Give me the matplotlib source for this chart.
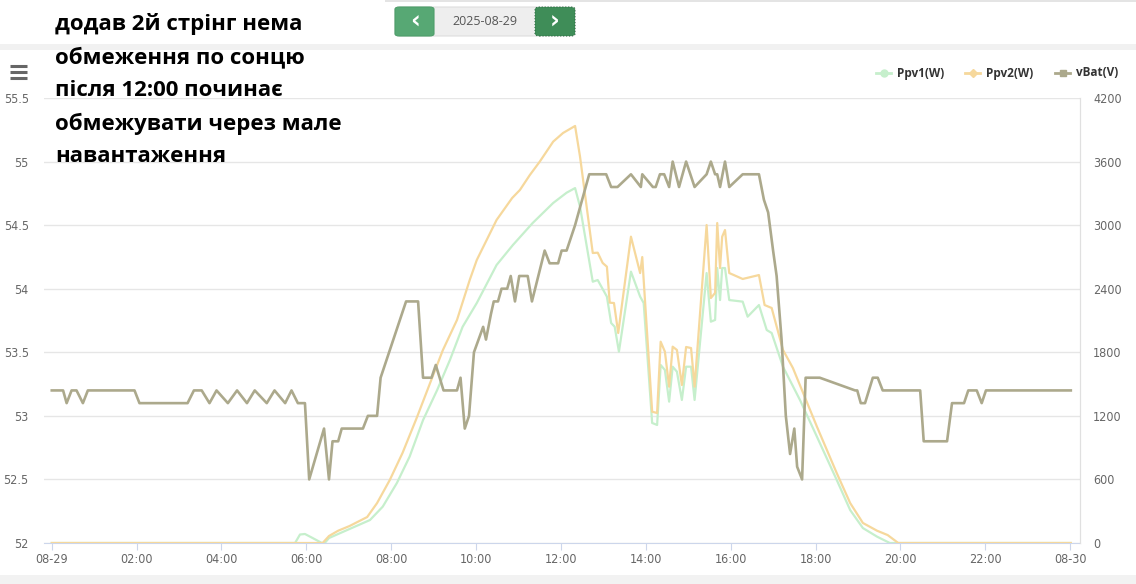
import matplotlib
matplotlib.use("Agg")
import matplotlib.pyplot as plt
from matplotlib.patches import Rectangle, FancyBboxPatch
from matplotlib.lines import Line2D

# ---------------- data (minutes since 00:00) ----------------
vbat_min = [0, 16, 21, 28, 35, 44, 51, 117, 124, 192, 201, 212, 223, 233, 249, 262, 276, 287,
            304, 315, 330, 339, 348, 358, 364, 385, 392, 397, 405, 410, 440, 447, 460, 465,
            501, 518, 525, 537, 543, 554, 573, 578, 584, 590, 597, 610, 614, 621, 625, 631,
            636, 644, 649, 655, 661, 673, 679, 697, 704, 716, 721, 728, 740, 760, 784, 791,
            800, 819, 833, 835, 850, 854, 860, 866, 873, 878, 887, 897, 909, 926, 932, 938,
            941, 945, 952, 958, 977, 1000, 1007, 1013, 1020, 1025, 1032, 1038, 1044, 1050,
            1054, 1061, 1066, 1086, 1136, 1139, 1144, 1150, 1161, 1168, 1175, 1228, 1233,
            1266, 1273, 1290, 1296, 1308, 1315, 1321, 1441]
vbat_val = [53.2, 53.2, 53.1, 53.2, 53.2, 53.1, 53.2, 53.2, 53.1, 53.1, 53.2, 53.2, 53.1, 53.2,
            53.1, 53.2, 53.1, 53.2, 53.1, 53.2, 53.1, 53.2, 53.1, 53.1, 52.5, 52.9, 52.5, 52.8,
            52.8, 52.9, 52.9, 53.0, 53.0, 53.3, 53.9, 53.9, 53.3, 53.3, 53.4, 53.2, 53.2, 53.3,
            52.9, 53.0, 53.5, 53.7, 53.6, 53.8, 53.9, 53.9, 54.0, 54.0, 54.1, 53.9, 54.1, 54.1,
            53.9, 54.3, 54.2, 54.2, 54.3, 54.3, 54.5, 54.9, 54.9, 54.8, 54.8, 54.9, 54.8, 54.9,
            54.8, 54.8, 54.9, 54.9, 54.8, 55.0, 54.8, 55.0, 54.8, 54.9, 55.0, 54.9, 54.9, 54.8,
            55.0, 54.8, 54.9, 54.9, 54.7, 54.6, 54.3, 54.1, 53.6, 53.0, 52.7, 52.9, 52.6, 52.5,
            53.3, 53.3, 53.2, 53.2, 53.1, 53.1, 53.3, 53.3, 53.2, 53.2, 52.8, 52.8, 53.1, 53.1,
            53.2, 53.2, 53.1, 53.2, 53.2]

ppv2_min = [0, 383, 392, 405, 421, 446, 460, 478, 496, 516, 535, 553, 573, 591, 601, 629, 651,
            662, 676, 690, 709, 723, 740, 747, 765, 772, 779, 785, 789, 795, 801, 819, 832,
            835, 837, 849, 856, 861, 867, 873, 878, 884, 891, 897, 904, 909, 926, 932, 938,
            941, 945, 948, 952, 958, 977, 1000, 1008, 1018, 1034, 1048, 1082, 1110, 1129,
            1147, 1167, 1182, 1197, 1441]
ppv2_val = [0, 0, 66, 116, 160, 245, 377, 595, 850, 1180, 1510, 1820, 2105, 2482, 2671, 3049,
            3256, 3332, 3473, 3599, 3788, 3870, 3936, 3646, 2737, 2740, 2643, 2608, 2268, 2265,
            1982, 2891, 2548, 2699, 2482, 1239, 1227, 1900, 1806, 1475, 1853, 1822, 1491, 1850,
            1840, 1475, 3001, 2312, 2360, 3020, 2595, 2891, 2954, 2548, 2492, 2529, 2246, 2218,
            1822, 1652, 1098, 660, 377, 189, 116, 75, 0, 0]

ppv1_min = [0, 344, 351, 358, 368, 382, 386, 392, 421, 450, 468, 488, 506, 525, 545, 563, 581,
            601, 629, 652, 680, 709, 728, 740, 747, 765, 772, 785, 791, 796, 802, 819, 832,
            837, 849, 856, 861, 867, 873, 878, 884, 891, 897, 904, 909, 926, 932, 938, 941,
            945, 948, 952, 958, 977, 984, 1000, 1011, 1018, 1034, 1058, 1082, 1110, 1129,
            1147, 1167, 1185, 1441]
ppv1_val = [0, 0, 80, 85, 50, 0, 0, 47, 132, 217, 343, 566, 815, 1160, 1444, 1727, 2041, 2265,
            2624, 2812, 3020, 3209, 3306, 3350, 3174, 2466, 2482, 2325, 2076, 2041, 1806, 2561,
            2325, 2265, 1133, 1114, 1680, 1633, 1334, 1664, 1617, 1350, 1664, 1664, 1350, 2548,
            2089, 2105, 2595, 2293, 2595, 2595, 2293, 2278, 2136, 2246, 2010, 1982, 1664, 1350,
            1003, 595, 311, 141, 60, 0, 0]

xtick_min = [0, 120, 240, 360, 480, 600, 720, 840, 960, 1080, 1200, 1320, 1440]
xtick_lbl = ["08-29", "02:00", "04:00", "06:00", "08:00", "10:00", "12:00", "14:00",
             "16:00", "18:00", "20:00", "22:00", "08-30"]
volt_ticks = [52, 52.5, 53, 53.5, 54, 54.5, 55, 55.5]
volt_lbl = ["52", "52.5", "53", "53.5", "54", "54.5", "55", "55.5"]
power_ticks = [0, 600, 1200, 1800, 2400, 3000, 3600, 4200]
series_names = ["Ppv1(W)", "Ppv2(W)", "vBat(V)"]
title_lines = ["додав 2й стрінг нема", "обмеження по сонцю", "після 12:00 починає",
               "обмежувати через мале", "навантаження"]
date_text = "2025-08-29"

# ---------------- style ----------------
C_PV1 = "#c6efcc"
C_PV2 = "#f6d89c"
C_BAT = "#aca98c"
W, H = 1136, 584

fig = plt.figure(figsize=(W / 100, H / 100), dpi=100)
fig.patch.set_facecolor("white")

def fx(px):
    return px / W

def fy(py):
    return 1 - py / H

# header / footer bands
fig.patches.append(Rectangle((0, fy(50)), 1, (50 - 44) / H, transform=fig.transFigure,
                             facecolor="#f1f1f1", edgecolor="none", zorder=0))
fig.patches.append(Rectangle((fx(385), fy(2)), 1, 2 / H, transform=fig.transFigure,
                             facecolor="#e4e4e4", edgecolor="none", zorder=0))
fig.patches.append(Rectangle((0, 0), 1, (H - 575) / H, transform=fig.transFigure,
                             facecolor="#f2f2f2", edgecolor="none", zorder=0))

ax = fig.add_axes([fx(44), fy(543), fx(1080 - 44), (543 - 98) / H])
axv = ax.twinx()

ax.plot(ppv1_min, ppv1_val, color=C_PV1, lw=1.6, zorder=2, solid_joinstyle="round")
ax.plot(ppv2_min, ppv2_val, color=C_PV2, lw=1.6, zorder=3, solid_joinstyle="round")
axv.plot(vbat_min, vbat_val, color=C_BAT, lw=1.9, zorder=4, solid_joinstyle="round")

ax.set_xlim(-11, 1454)
ax.set_ylim(0, 4200)
axv.set_ylim(52, 55.5)

ax.set_yticks(power_ticks)
ax.set_yticklabels([str(v) for v in power_ticks])
ax.yaxis.tick_right()
axv.set_yticks(volt_ticks)
axv.set_yticklabels(volt_lbl)
axv.yaxis.tick_left()
ax.set_xticks(xtick_min)
ax.set_xticklabels(xtick_lbl)

ax.grid(axis="y", color="#e6e6e6", lw=1.0)
ax.set_axisbelow(True)
for a in (ax, axv):
    for s in ("top", "left"):
        a.spines[s].set_visible(False)
    a.spines["right"].set_color("#e0e0e0")
    a.spines["bottom"].set_color("#ccd6eb")
    a.set_facecolor("none")
axv.spines["bottom"].set_visible(False)

ax.tick_params(axis="x", length=5, color="#ccd6eb", pad=2, labelsize=9, labelcolor="#666666")
ax.tick_params(axis="y", length=0, pad=9.5, labelsize=9, labelcolor="#666666")
axv.tick_params(axis="y", length=0, pad=11, labelsize=9, labelcolor="#666666")
for lab in ax.get_xticklabels() + ax.get_yticklabels() + axv.get_yticklabels():
    lab.set_family("DejaVu Sans")
    lab.set_stretch("condensed")

# legend (custom placement like the web chart)
leg_items = [(876, C_PV1, "o", series_names[0]), (965, C_PV2, "D", series_names[1]),
             (1055, C_BAT, "s", series_names[2])]
for x0, col, mk, name in leg_items:
    fig.add_artist(Line2D([fx(x0), fx(x0 + 15)], [fy(73), fy(73)], transform=fig.transFigure,
                          color=col, lw=2))
    fig.add_artist(Line2D([fx(x0 + 7.5)], [fy(73)], transform=fig.transFigure, color=col,
                          marker=mk, markersize=5 if mk != "D" else 4, lw=0))
    fig.text(fx(x0 + 21), fy(73), name, ha="left", va="center", fontsize=8.5,
             fontweight="bold", color="#333333", family=["Open Sans", "DejaVu Sans"])

# hamburger icon
for yy in (66, 72, 78):
    fig.add_artist(Line2D([fx(10), fx(27)], [fy(yy), fy(yy)], transform=fig.transFigure,
                          color="#666666", lw=2.2, solid_capstyle="butt"))

# date picker
fig.patches.append(FancyBboxPatch((fx(395), fy(36)), fx(180), 29 / H,
                                  boxstyle="round,pad=0,rounding_size=0.004",
                                  transform=fig.transFigure, facecolor="#eeeeee",
                                  edgecolor="#dddddd", lw=0.8, zorder=1))
fig.patches.append(FancyBboxPatch((fx(395), fy(36)), fx(39), 29 / H,
                                  boxstyle="round,pad=0,rounding_size=0.004",
                                  transform=fig.transFigure, facecolor="#57a874",
                                  edgecolor="#4e9e6a", lw=0.8, zorder=2))
fig.patches.append(FancyBboxPatch((fx(535), fy(36)), fx(40), 29 / H,
                                  boxstyle="round,pad=0,rounding_size=0.004",
                                  transform=fig.transFigure, facecolor="#3f8d58",
                                  edgecolor="#2f6e44", lw=0.8, ls=":", zorder=2))
fig.text(fx(414.5), fy(21.5), "‹", ha="center", va="center", fontsize=17, fontweight="bold",
         color="white", zorder=3)
fig.text(fx(555), fy(21.5), "›", ha="center", va="center", fontsize=17, fontweight="bold",
         color="white", zorder=3)
fig.text(fx(485), fy(21.5), date_text, ha="center", va="center", fontsize=9,
         color="#555555", family=["Open Sans", "DejaVu Sans"], zorder=3)

# overlay annotation text
baselines = [30, 63, 96, 130, 162]
for txt, b in zip(title_lines, baselines):
    fig.text(fx(55), fy(b), txt, ha="left", va="baseline", fontsize=16, fontweight="bold",
             color="black", family=["Open Sans", "DejaVu Sans"], zorder=10)

fig.savefig("out.png", dpi=100, facecolor="white")
